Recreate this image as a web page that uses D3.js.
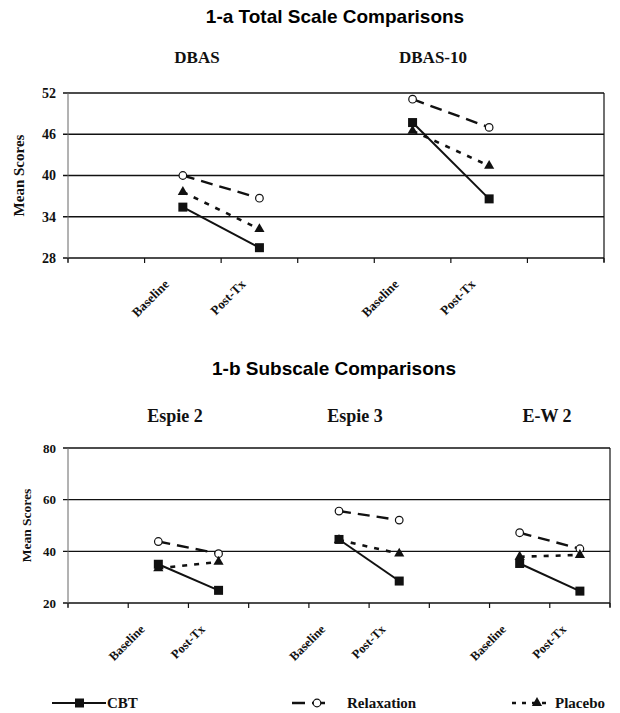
<!DOCTYPE html>
<html>
<head>
<meta charset="utf-8">
<script src="https://cdn.jsdelivr.net/npm/d3@7"></script>
<style>
  body { margin: 0; background: #fff; }
  svg { display: block; }
</style>
</head>
<body>
<svg width="620" height="713"></svg>
<script>
// ---- data ----
var topCats = ["", "Baseline", "Post-Tx", "", "Baseline", "Post-Tx", ""];
var topGroups = ["DBAS", "DBAS-10"];
var topGroupAt = [1, 4];              // category index of each group's baseline
var topTicks = [28, 34, 40, 46, 52];
var topCbt = [[35.4, 29.5], [47.7, 36.6]];
var topRelax = [[40.0, 36.7], [51.1, 47.0]];
var topPlacebo = [[37.6, 32.2], [46.5, 41.4]];

var botCats = ["", "Baseline", "Post-Tx", "", "Baseline", "Post-Tx", "", "Baseline", "Post-Tx"];
var botGroups = ["Espie 2", "Espie 3", "E-W 2"];
var botGroupAt = [1, 4, 7];
var botTicks = [20, 40, 60, 80];
var botCbt = [[35.0, 24.9], [44.6, 28.5], [35.3, 24.6]];
var botRelax = [[43.8, 39.1], [55.6, 52.1], [47.2, 41.0]];
var botPlacebo = [[33.4, 35.9], [44.4, 39.1], [37.9, 38.6]];

var seriesNames = ["CBT", "Relaxation", "Placebo"];

var SERIF = "'Liberation Serif', 'Times New Roman', Times, serif";
var SANS = "'Liberation Sans', Arial, Helvetica, sans-serif";

var svg = d3.select("svg");

function serifText(sel, size) {
  return sel.style("font-family", SERIF).style("font-weight", "bold")
    .style("font-size", size + "px").style("fill", "#111");
}

svg.append("text").attr("x", 335).attr("y", 23)
  .attr("text-anchor", "middle")
  .style("font-family", SANS).style("font-weight", "bold").style("font-size", "19px")
  .text("1-a Total Scale Comparisons");
svg.append("text").attr("x", 334).attr("y", 375)
  .attr("text-anchor", "middle")
  .style("font-family", SANS).style("font-weight", "bold").style("font-size", "19px")
  .text("1-b Subscale Comparisons");

drawPanel({
  left: 68, right: 604, top: 93, bottom: 258,
  cats: topCats, ticks: topTicks, domain: [28, 52],
  groups: topGroups, groupAt: topGroupAt, groupTitleX: [197, 433], groupTitleY: 63, groupFont: 17,
  cbt: topCbt, relax: topRelax, placebo: topPlacebo,
  yLabelX: 19, tickFont: 14, labelFont: 15, catFont: 13
});

drawPanel({
  left: 68, right: 610, top: 448, bottom: 603,
  cats: botCats, ticks: botTicks, domain: [20, 80],
  groups: botGroups, groupAt: botGroupAt, groupTitleX: [175, 355, 547], groupTitleY: 422, groupFont: 18,
  cbt: botCbt, relax: botRelax, placebo: botPlacebo,
  yLabelX: 26, tickFont: 13, labelFont: 13.5, catFont: 12.5
});

function drawPanel(p) {
  var x = d3.scaleBand().domain(d3.range(p.cats.length)).range([p.left, p.right]).padding(0);
  var y = d3.scaleLinear().domain(p.domain).range([p.bottom, p.top]);
  var g = svg.append("g");

  // gridlines
  g.append("g").selectAll("line").data(p.ticks).enter().append("line")
    .attr("x1", p.left - 5).attr("x2", p.right)
    .attr("y1", function(d) { return y(d); }).attr("y2", function(d) { return y(d); })
    .style("stroke", "#111").style("stroke-width", 1.4);

  // left axis + right border
  g.append("line").attr("x1", p.left).attr("x2", p.left).attr("y1", p.top).attr("y2", p.bottom + 4)
    .style("stroke", "#666").style("stroke-width", 1);
  g.append("line").attr("x1", p.right).attr("x2", p.right).attr("y1", p.top).attr("y2", p.bottom + 4)
    .style("stroke", "#111").style("stroke-width", 1.2);

  // y tick labels
  serifText(g.append("g").selectAll("text").data(p.ticks).enter().append("text"), p.tickFont)
    .attr("x", p.left - 12).attr("y", function(d) { return y(d); }).attr("dy", "0.35em")
    .attr("text-anchor", "end")
    .text(function(d) { return d; });

  // x ticks at category boundaries
  var bounds = d3.range(p.cats.length + 1).map(function(i) { return p.left + i * x.bandwidth(); });
  g.append("g").selectAll("line").data(bounds).enter().append("line")
    .attr("x1", function(d) { return d; }).attr("x2", function(d) { return d; })
    .attr("y1", p.bottom).attr("y2", p.bottom + 5)
    .style("stroke", "#111").style("stroke-width", 1.2);

  // x labels
  serifText(g.append("g").selectAll("text").data(d3.range(p.cats.length)).enter().append("text"), p.catFont)
    .attr("text-anchor", "end")
    .attr("transform", function(i) {
      return "translate(" + (x(i) + x.bandwidth() / 2 - 13) + "," + (p.bottom + 27) + ") rotate(-45)";
    })
    .text(function(i) { return p.cats[i]; });

  // y axis label
  serifText(g.append("text"), p.labelFont)
    .attr("text-anchor", "middle")
    .attr("transform", "translate(" + (p.yLabelX + 5) + "," + ((p.top + p.bottom) / 2) + ") rotate(-90)")
    .text("Mean Scores");

  // group titles
  serifText(g.append("g").selectAll("text").data(p.groups).enter().append("text"), p.groupFont)
    .attr("text-anchor", "middle")
    .attr("x", function(d, i) { return p.groupTitleX[i]; }).attr("y", p.groupTitleY)
    .text(function(d) { return d; });

  function pts(vals) {
    return vals.map(function(v, gi) {
      return v.map(function(val, k) {
        var ci = p.groupAt[gi] + k;
        return [x(ci) + x.bandwidth() / 2, y(val)];
      });
    });
  }
  var line = d3.line();

  // Relaxation
  pts(p.relax).forEach(function(seg) {
    g.append("path").attr("d", line(seg)).style("fill", "none").style("stroke", "#111")
      .style("stroke-width", 2.4).style("stroke-dasharray", "12,7");
    g.selectAll(null).data(seg).enter().append("circle")
      .attr("cx", function(d) { return d[0]; }).attr("cy", function(d) { return d[1]; })
      .attr("r", 3.8).style("fill", "#fff").style("stroke", "#111").style("stroke-width", 1.2);
  });
  // Placebo
  pts(p.placebo).forEach(function(seg) {
    g.append("path").attr("d", line(seg)).style("fill", "none").style("stroke", "#111")
      .style("stroke-width", 2.6).style("stroke-dasharray", "5,7");
    g.selectAll(null).data(seg).enter().append("path")
      .attr("d", d3.symbol().type(d3.symbolTriangle).size(45))
      .attr("transform", function(d) { return "translate(" + d[0] + "," + d[1] + ")"; })
      .style("fill", "#111");
  });
  // CBT
  pts(p.cbt).forEach(function(seg) {
    g.append("path").attr("d", line(seg)).style("fill", "none").style("stroke", "#111")
      .style("stroke-width", 2);
    g.selectAll(null).data(seg).enter().append("rect")
      .attr("x", function(d) { return d[0] - 4.5; }).attr("y", function(d) { return d[1] - 4.5; })
      .attr("width", 9).attr("height", 9).style("fill", "#111");
  });
}

// ---- legend ----
var ly = 703;
var lg = svg.append("g");
// CBT
lg.append("line").attr("x1", 52).attr("x2", 106).attr("y1", ly).attr("y2", ly)
  .style("stroke", "#111").style("stroke-width", 2);
lg.append("rect").attr("x", 75).attr("y", ly - 4.5).attr("width", 9).attr("height", 9).style("fill", "#111");
serifText(lg.append("text"), 15).attr("x", 107).attr("y", ly + 5).text(seriesNames[0]);
// Relaxation
lg.append("line").attr("x1", 292).attr("x2", 332).attr("y1", ly).attr("y2", ly)
  .style("stroke", "#111").style("stroke-width", 2.4).style("stroke-dasharray", "13,7");
lg.append("circle").attr("cx", 317).attr("cy", ly).attr("r", 3.8)
  .style("fill", "#fff").style("stroke", "#111").style("stroke-width", 1.2);
serifText(lg.append("text"), 15).attr("x", 347).attr("y", ly + 5).text(seriesNames[1]);
// Placebo
lg.append("line").attr("x1", 512).attr("x2", 552).attr("y1", ly).attr("y2", ly)
  .style("stroke", "#111").style("stroke-width", 2.6).style("stroke-dasharray", "4,6");
lg.append("path").attr("d", d3.symbol().type(d3.symbolTriangle).size(45))
  .attr("transform", "translate(537," + ly + ")").style("fill", "#111");
serifText(lg.append("text"), 15).attr("x", 555).attr("y", ly + 5).text(seriesNames[2]);
</script>
</body>
</html>
